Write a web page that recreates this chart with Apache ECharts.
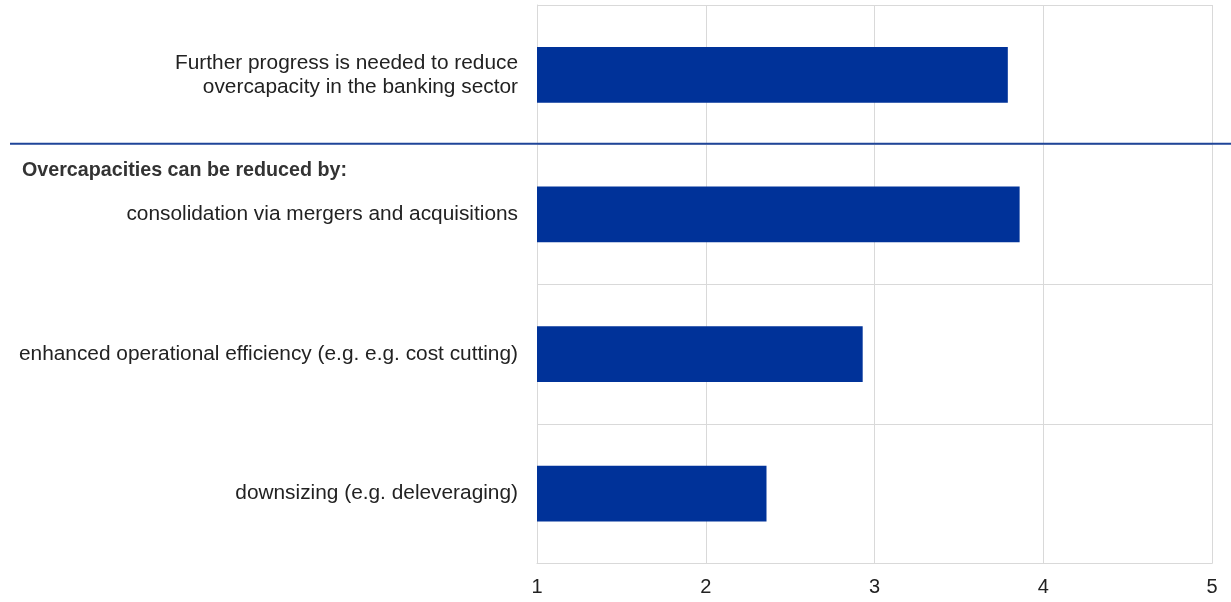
<!DOCTYPE html>
<html>
<head>
<meta charset="utf-8">
<script src="https://cdn.jsdelivr.net/npm/echarts@6/dist/echarts.min.js"></script>
<style>
html,body{margin:0;padding:0;background:#fff;}
#chart{width:1231px;height:602px;}
</style>
</head>
<body>
<div id="chart"></div>
<script>
const categories = [
  "Further progress is needed to reduce\novercapacity in the banking sector",
  "consolidation via mergers and acquisitions",
  "enhanced operational efficiency (e.g. e.g. cost cutting)",
  "downsizing (e.g. deleveraging)"
];
const values = [3.79, 3.86, 2.93, 2.36];
const heading = "Overcapacities can be reduced by:";
const xTicks = [1, 2, 3, 4, 5];

const chart = echarts.init(document.getElementById('chart'), null, {renderer: 'canvas'});
const font = '"Liberation Sans", Arial, sans-serif';
const gray = '#d9d9d9';

chart.setOption({
  animation: false,
  backgroundColor: '#ffffff',
  grid: {left: 537, right: 19, top: 5, bottom: 38.5, containLabel: false},
  xAxis: {
    type: 'value',
    min: xTicks[0], max: xTicks[xTicks.length - 1], interval: 1,
    axisLine: {show: true, lineStyle: {color: gray, width: 1}},
    axisTick: {show: false},
    splitLine: {show: true, lineStyle: {color: gray, width: 1}},
    axisLabel: {color: '#222', fontFamily: font, fontSize: 20, margin: 14}
  },
  yAxis: {
    type: 'category',
    inverse: true,
    data: categories,
    axisLine: {show: true, lineStyle: {color: gray, width: 1}},
    axisTick: {show: false},
    splitLine: {show: true, lineStyle: {color: gray, width: 1}},
    axisLabel: {color: '#222', fontFamily: font, fontSize: 20.85, margin: 19, lineHeight: 24, align: 'right'}
  },
  series: [{
    type: 'bar',
    data: values,
    barWidth: '40%',
    itemStyle: {color: '#003299'},
    silent: true
  }]
});

function addDecor() {
  const y0 = chart.convertToPixel({yAxisIndex: 0}, categories[0]);
  const y1 = chart.convertToPixel({yAxisIndex: 0}, categories[1]);
  const yb = (y0 + y1) / 2 - 1;
  chart.setOption({
    graphic: [
      {type: 'line', z: 100, shape: {x1: 10, y1: yb, x2: 1231, y2: yb},
       style: {stroke: '#1f4599', lineWidth: 2}},
      {type: 'text', z: 100, x: 22, y: yb + 27,
       style: {text: heading, fill: '#333', font: 'bold 19.7px "Liberation Sans", Arial, sans-serif',
               textVerticalAlign: 'middle', verticalAlign: 'middle'}}
    ]
  });
}
addDecor();
</script>
</body>
</html>
